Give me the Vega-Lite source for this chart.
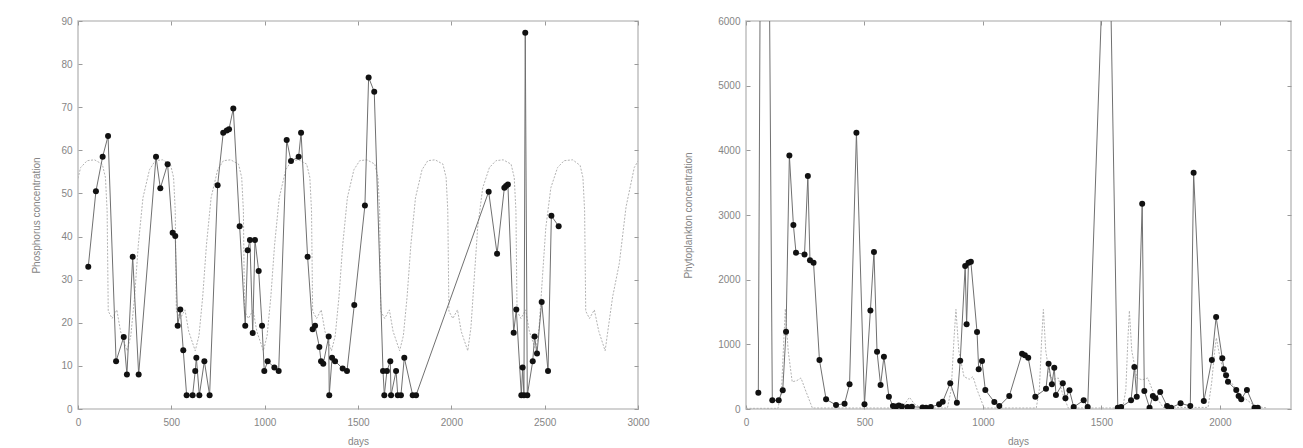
{
  "$schema": "https://vega.github.io/schema/vega-lite/v6.json",
  "padding": {"left": 30, "top": 15, "right": 5, "bottom": 0},
  "background": "white",
  "config": {
    "view": {"stroke": "#c4c4c4", "strokeWidth": 1.6},
    "axis": {
      "domain": false, "grid": false, "tickColor": "#9a9a9a", "tickSize": -4, "tickWidth": 1, "format": "d",
      "labelColor": "#858585", "labelFont": "Liberation Sans", "labelFontSize": 10, "labelFlush": false,
      "titleColor": "#858585", "titleFont": "Liberation Sans", "titleFontSize": 10, "titleFontWeight": "normal"
    }
  },
  "datasets": {
    "pobs": [
      {"d":55,"v":33},{"d":96,"v":50.5},{"d":132,"v":58.5},{"d":161,"v":63.3},{"d":204,"v":11.1},{"d":245,"v":16.7},{"d":262,"v":8},{"d":293,"v":35.3},{"d":325,"v":8},
      {"d":418,"v":58.5},{"d":441,"v":51.2},{"d":480,"v":56.8},{"d":507,"v":40.9},{"d":521,"v":40.1},{"d":534,"v":19.3},{"d":548,"v":23.1},{"d":564,"v":13.6},{"d":582,"v":3.2},
      {"d":614,"v":3.2},{"d":628,"v":8.8},{"d":634,"v":11.9},{"d":650,"v":3.2},{"d":677,"v":11.1},{"d":705,"v":3.2},{"d":748,"v":51.9},{"d":778,"v":64.1},{"d":797,"v":64.6},
      {"d":809,"v":64.9},{"d":832,"v":69.7},{"d":866,"v":42.4},{"d":896,"v":19.3},{"d":909,"v":36.8},{"d":921,"v":39.2},{"d":936,"v":17.6},{"d":948,"v":39.2},{"d":968,"v":32},
      {"d":986,"v":19.3},{"d":998,"v":8.8},{"d":1016,"v":11.1},{"d":1052,"v":9.6},{"d":1075,"v":8.8},{"d":1118,"v":62.4},{"d":1141,"v":57.5},{"d":1182,"v":58.5},{"d":1195,"v":64.1},
      {"d":1230,"v":35.3},{"d":1257,"v":18.5},{"d":1270,"v":19.3},{"d":1293,"v":14.4},{"d":1302,"v":11.1},{"d":1314,"v":10.5},{"d":1343,"v":16.8},{"d":1346,"v":3.2},{"d":1361,"v":11.9},
      {"d":1377,"v":11.1},{"d":1418,"v":9.4},{"d":1441,"v":8.8},{"d":1480,"v":24.1},{"d":1537,"v":47.2},{"d":1557,"v":76.9},{"d":1587,"v":73.6},{"d":1634,"v":8.8},{"d":1641,"v":3.2},
      {"d":1655,"v":8.8},{"d":1673,"v":11.1},{"d":1677,"v":3.2},{"d":1704,"v":8.8},{"d":1713,"v":3.2},{"d":1730,"v":3.2},{"d":1748,"v":11.9},{"d":1793,"v":3.2},{"d":1811,"v":3.2},
      {"d":2200,"v":50.4},{"d":2245,"v":36.0},{"d":2284,"v":51.3},{"d":2293,"v":51.7},{"d":2303,"v":52.1},{"d":2334,"v":17.7},{"d":2348,"v":23.1},{"d":2375,"v":3.2},{"d":2382,"v":9.6},
      {"d":2389,"v":3.2},{"d":2396,"v":87.3},{"d":2407,"v":3.2},{"d":2436,"v":11.1},{"d":2446,"v":16.8},{"d":2459,"v":12.9},{"d":2484,"v":24.8},{"d":2518,"v":8.8},{"d":2536,"v":44.8},{"d":2575,"v":42.4}
    ],
    "pmod": [
      {"d":0,"v":53.5},{"d":14,"v":56},{"d":49,"v":57.6},{"d":88,"v":57.8},{"d":130,"v":56.8},{"d":147,"v":53.7},{"d":156,"v":46},{"d":162,"v":22.7},{"d":183,"v":21},{"d":208,"v":23},{"d":228,"v":18},
      {"d":263,"v":13.5},{"d":283,"v":17},{"d":303,"v":26},{"d":323,"v":38},{"d":348,"v":49},{"d":383,"v":55.5},{"d":414,"v":57.6},{"d":453,"v":57.8},{"d":495,"v":56.8},{"d":512,"v":53.7},{"d":521,"v":46},{"d":527,"v":22.7},{"d":548,"v":21},{"d":573,"v":23},{"d":593,"v":18},
      {"d":628,"v":13.5},{"d":648,"v":17},{"d":668,"v":26},{"d":688,"v":38},{"d":713,"v":49},{"d":748,"v":55.5},{"d":779,"v":57.6},{"d":818,"v":57.8},{"d":860,"v":56.8},{"d":877,"v":53.7},{"d":886,"v":46},{"d":892,"v":22.7},{"d":913,"v":21},{"d":938,"v":23},{"d":958,"v":18},
      {"d":993,"v":13.5},{"d":1013,"v":17},{"d":1033,"v":26},{"d":1053,"v":38},{"d":1078,"v":49},{"d":1113,"v":55.5},{"d":1144,"v":57.6},{"d":1183,"v":57.8},{"d":1225,"v":56.8},{"d":1242,"v":53.7},{"d":1251,"v":46},{"d":1257,"v":22.7},{"d":1278,"v":21},{"d":1303,"v":23},{"d":1323,"v":18},
      {"d":1358,"v":13.5},{"d":1378,"v":17},{"d":1398,"v":26},{"d":1418,"v":38},{"d":1443,"v":49},{"d":1478,"v":55.5},{"d":1509,"v":57.6},{"d":1548,"v":57.8},{"d":1590,"v":56.8},{"d":1607,"v":53.7},{"d":1616,"v":46},{"d":1622,"v":22.7},{"d":1643,"v":21},{"d":1668,"v":23},{"d":1688,"v":18},
      {"d":1723,"v":13.5},{"d":1743,"v":17},{"d":1763,"v":26},{"d":1783,"v":38},{"d":1808,"v":49},{"d":1843,"v":55.5},{"d":1874,"v":57.6},{"d":1913,"v":57.8},{"d":1955,"v":56.8},{"d":1972,"v":53.7},{"d":1981,"v":46},{"d":1987,"v":22.7},{"d":2008,"v":21},{"d":2033,"v":23},{"d":2053,"v":18},
      {"d":2088,"v":13.5},{"d":2105,"v":18.9},{"d":2123,"v":30.5},{"d":2141,"v":42},{"d":2168,"v":51.3},{"d":2204,"v":56},{"d":2239,"v":57.6},{"d":2278,"v":57.8},{"d":2320,"v":56.8},{"d":2337,"v":53.7},{"d":2346,"v":46},{"d":2352,"v":22.7},{"d":2373,"v":21},{"d":2398,"v":23},{"d":2418,"v":18},
      {"d":2453,"v":13.5},{"d":2470,"v":18.9},{"d":2488,"v":30.5},{"d":2506,"v":42},{"d":2533,"v":51.3},{"d":2569,"v":56},{"d":2604,"v":57.6},{"d":2650,"v":57.8},{"d":2690,"v":56.5},{"d":2705,"v":53.7},{"d":2714,"v":46},{"d":2720,"v":22.7},{"d":2740,"v":21},{"d":2766,"v":23},{"d":2790,"v":18},
      {"d":2824,"v":13.5},{"d":2841,"v":18.9},{"d":2864,"v":26},{"d":2900,"v":33.8},{"d":2936,"v":46.9},{"d":2980,"v":56},{"d":3000,"v":57.5}
    ],
    "fobs": [
      {"d":52,"v":252},{"d":75,"v":19000},{"d":111,"v":134},{"d":138,"v":134},{"d":155,"v":289},{"d":169,"v":1195},{"d":183,"v":3922},{"d":200,"v":2845},{"d":211,"v":2417},{"d":247,"v":2391},
      {"d":261,"v":3602},{"d":270,"v":2299},{"d":285,"v":2262},{"d":310,"v":757},{"d":338,"v":150},{"d":380,"v":62},{"d":416,"v":82},{"d":437,"v":381},{"d":466,"v":4272},{"d":500,"v":72},
      {"d":525,"v":1525},{"d":540,"v":2427},{"d":553,"v":886},{"d":568,"v":371},{"d":582,"v":809},{"d":603,"v":191},{"d":620,"v":46},{"d":633,"v":40},{"d":645,"v":55},{"d":658,"v":40},
      {"d":682,"v":30},{"d":700,"v":35},{"d":745,"v":25},{"d":760,"v":20},{"d":780,"v":30},{"d":815,"v":72},{"d":830,"v":113},{"d":862,"v":400},{"d":890,"v":98},{"d":904,"v":745},
      {"d":925,"v":2210},{"d":931,"v":1310},{"d":939,"v":2262},{"d":949,"v":2277},{"d":975,"v":1190},{"d":982,"v":613},{"d":996,"v":742},{"d":1010,"v":294},{"d":1048,"v":108},{"d":1069,"v":46},
      {"d":1111,"v":201},{"d":1165,"v":855},{"d":1177,"v":830},{"d":1191,"v":793},{"d":1221,"v":191},{"d":1266,"v":314},{"d":1277,"v":700},{"d":1291,"v":381},{"d":1301,"v":639},{"d":1308,"v":216},
      {"d":1337,"v":397},{"d":1348,"v":165},{"d":1365,"v":289},{"d":1383,"v":31},{"d":1425,"v":134},{"d":1442,"v":31},{"d":1527,"v":9000},{"d":1569,"v":20},{"d":1583,"v":30},{"d":1625,"v":134},
      {"d":1639,"v":649},{"d":1649,"v":191},{"d":1672,"v":3174},{"d":1681,"v":278},{"d":1703,"v":20},{"d":1717,"v":201},{"d":1728,"v":165},{"d":1748,"v":263},{"d":1777,"v":46},{"d":1794,"v":20},
      {"d":1834,"v":88},{"d":1875,"v":46},{"d":1889,"v":3653},{"d":1932,"v":124},{"d":1966,"v":757},{"d":1984,"v":1422},{"d":2010,"v":783},{"d":2017,"v":613},{"d":2026,"v":520},{"d":2034,"v":420},
      {"d":2069,"v":294},{"d":2079,"v":201},{"d":2090,"v":150},{"d":2114,"v":294},{"d":2146,"v":20},{"d":2160,"v":20}
    ],
    "fmod": [
      {"d":0,"v":10},{"d":135,"v":10},{"d":150,"v":300},{"d":160,"v":1100},{"d":166,"v":1550},{"d":178,"v":900},{"d":195,"v":420},{"d":215,"v":440},{"d":232,"v":480},{"d":250,"v":300},{"d":280,"v":15},
      {"d":650,"v":15},{"d":670,"v":80},{"d":690,"v":180},{"d":710,"v":80},{"d":740,"v":15},
      {"d":850,"v":15},{"d":866,"v":300},{"d":878,"v":1100},{"d":886,"v":1540},{"d":898,"v":900},{"d":920,"v":500},{"d":942,"v":460},{"d":958,"v":500},{"d":975,"v":300},{"d":1005,"v":15},
      {"d":1225,"v":15},{"d":1238,"v":300},{"d":1248,"v":1100},{"d":1255,"v":1540},{"d":1265,"v":900},{"d":1282,"v":500},{"d":1300,"v":460},{"d":1318,"v":480},{"d":1335,"v":250},{"d":1360,"v":15},
      {"d":1590,"v":15},{"d":1603,"v":300},{"d":1612,"v":1100},{"d":1618,"v":1520},{"d":1628,"v":900},{"d":1650,"v":480},{"d":1672,"v":450},{"d":1695,"v":480},{"d":1720,"v":250},{"d":1760,"v":25},
      {"d":1950,"v":25},{"d":1965,"v":400},{"d":1978,"v":900},{"d":1985,"v":1100},{"d":2000,"v":800},{"d":2020,"v":500},{"d":2050,"v":400},{"d":2080,"v":250},{"d":2110,"v":150},{"d":2150,"v":40},{"d":2200,"v":15}
    ]
  },
  "hconcat": [
    {
      "width": 560, "height": 388,
      "layer": [
        {
          "data": {"name": "pmod"},
          "mark": {"type": "line", "color": "#b3b3b3", "strokeWidth": 1, "strokeDash": [2, 1.5], "clip": true},
          "encoding": {
            "x": {"field": "d", "type": "quantitative", "scale": {"domain": [0, 3000], "nice": false},
                  "axis": {"orient": "bottom", "values": [0,500,1000,1500,2000,2500,3000], "labelPadding": 12, "title": "days", "titleX": 280, "titleY": 32, "titleBaseline": "middle"}},
            "y": {"field": "v", "type": "quantitative", "scale": {"domain": [0, 90], "nice": false, "zero": false},
                  "axis": {"orient": "left", "values": [0,10,20,30,40,50,60,70,80,90], "labelPadding": 10, "title": "Phosphorus concentration", "titleX": -42, "titleY": 194, "titleBaseline": "middle"}}
          }
        },
        {
          "data": {"name": "pobs"},
          "mark": {"type": "line", "color": "#707070", "strokeWidth": 1, "clip": true},
          "encoding": {
            "x": {"field": "d", "type": "quantitative", "scale": {"domain": [0, 3000], "nice": false},
                  "axis": {"orient": "top", "values": [0,500,1000,1500,2000,2500,3000], "labels": false, "title": null}},
            "y": {"field": "v", "type": "quantitative", "scale": {"domain": [0, 90], "nice": false, "zero": false},
                  "axis": {"orient": "right", "values": [0,10,20,30,40,50,60,70,80,90], "labels": false, "title": null}}
          }
        },
        {
          "data": {"name": "pobs"},
          "mark": {"type": "point", "filled": true, "color": "#111111", "opacity": 1, "size": 36, "clip": true},
          "encoding": {
            "x": {"field": "d", "type": "quantitative", "scale": {"domain": [0, 3000], "nice": false}, "axis": null},
            "y": {"field": "v", "type": "quantitative", "scale": {"domain": [0, 90], "nice": false, "zero": false}, "axis": null}
          }
        }
      ],
      "resolve": {"axis": {"x": "independent", "y": "independent"}}
    },
    {
      "width": 545, "height": 388,
      "layer": [
        {
          "data": {"name": "fmod"},
          "mark": {"type": "line", "color": "#b3b3b3", "strokeWidth": 1, "strokeDash": [2, 1.5], "clip": true},
          "encoding": {
            "x": {"field": "d", "type": "quantitative", "scale": {"domain": [0, 2300], "nice": false},
                  "axis": {"orient": "bottom", "values": [0,500,1000,1500,2000], "labelPadding": 12, "title": "days", "titleX": 272, "titleY": 32, "titleBaseline": "middle"}},
            "y": {"field": "v", "type": "quantitative", "scale": {"domain": [0, 6000], "nice": false, "zero": false},
                  "axis": {"orient": "left", "values": [0,1000,2000,3000,4000,5000,6000], "labelPadding": 10, "title": "Phytoplankton concentration", "titleX": -58, "titleY": 194, "titleBaseline": "middle"}}
          }
        },
        {
          "data": {"name": "fobs"},
          "mark": {"type": "line", "color": "#707070", "strokeWidth": 1, "clip": true},
          "encoding": {
            "x": {"field": "d", "type": "quantitative", "scale": {"domain": [0, 2300], "nice": false},
                  "axis": {"orient": "top", "values": [0,500,1000,1500,2000], "labels": false, "title": null}},
            "y": {"field": "v", "type": "quantitative", "scale": {"domain": [0, 6000], "nice": false, "zero": false},
                  "axis": {"orient": "right", "values": [0,1000,2000,3000,4000,5000,6000], "labels": false, "title": null}}
          }
        },
        {
          "data": {"name": "fobs"},
          "mark": {"type": "point", "filled": true, "color": "#111111", "opacity": 1, "size": 36, "clip": true},
          "encoding": {
            "x": {"field": "d", "type": "quantitative", "scale": {"domain": [0, 2300], "nice": false}, "axis": null},
            "y": {"field": "v", "type": "quantitative", "scale": {"domain": [0, 6000], "nice": false, "zero": false}, "axis": null}
          }
        }
      ],
      "resolve": {"axis": {"x": "independent", "y": "independent"}}
    }
  ],
  "spacing": 108,
  "bounds": "flush"
}
